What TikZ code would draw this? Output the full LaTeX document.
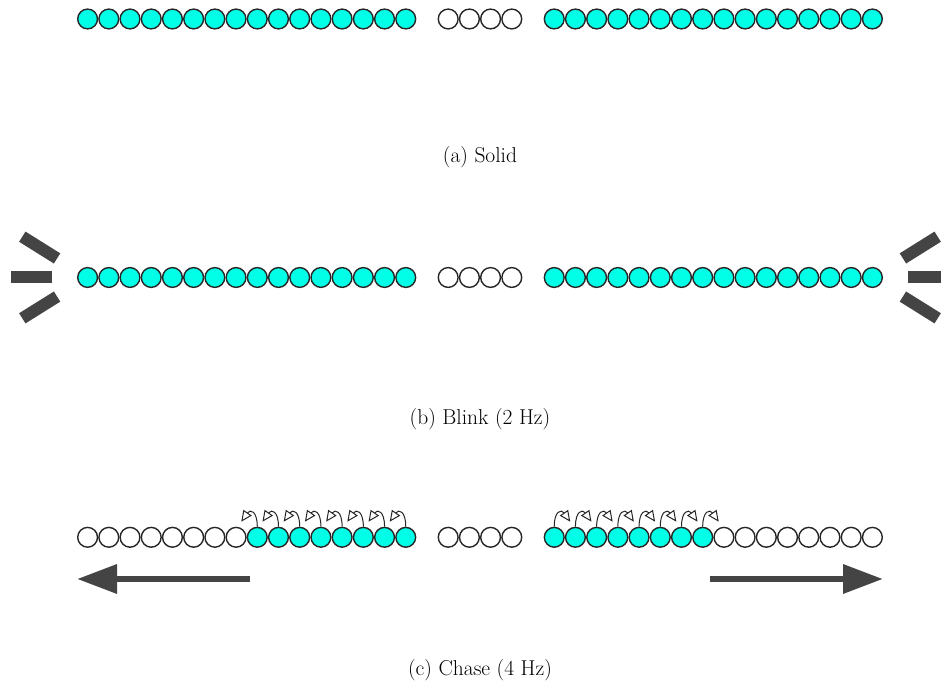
\documentclass[tikz,border=0pt]{standalone}
\usepackage{fontspec}
\usetikzlibrary{arrows.meta}
\definecolor{ledc}{RGB}{0,255,230}
\definecolor{dk}{RGB}{68,68,68}
\begin{document}
\begin{tikzpicture}[x=1pt,y=1pt,
  led/.style={circle,draw=black!85,line width=1.4pt,minimum size=19.8pt,inner sep=0pt},
  ledon/.style={led,fill=ledc},
  ledoff/.style={led,fill=white},
  bar/.style={draw=dk,line width=12pt},
  bigarrow/.style={draw=dk,line width=6.5pt,-{Triangle[length=40pt,width=28pt]}},
  chasearr/.style={draw=black!85,line width=1pt,-{Triangle[open,length=11pt,width=10pt]}},
  captext/.style={anchor=base,font=\fontsize{21.5}{26}\selectfont}]
\useasboundingbox (0,0) rectangle (941,692);
% row (a)
\foreach \i in {0,1,...,15,22,23,...,37}
  \node[ledon] (a\i) at ({77+21.21*(\i+0.5)},673) {};
\foreach \i in {17,18,...,20}
  \node[ledoff] (a\i) at ({77+21.21*(\i+0.5)},673) {};
\node[captext] (capa) at (480,529) {(a) Solid};
% row (b)
\foreach \i in {0,1,...,15,22,23,...,37}
  \node[ledon] (b\i) at ({77+21.21*(\i+0.5)},414.5) {};
\foreach \i in {17,18,...,20}
  \node[ledoff] (b\i) at ({77+21.21*(\i+0.5)},414.5) {};
\foreach \a in {148,180,212}
  \draw[bar] (b0.center) ++(\a:36) -- ++(\a:41);
\foreach \a in {32,0,-32}
  \draw[bar] (b37.center) ++(\a:36) -- ++(\a:41);
\node[captext] (capb) at (480,267) {(b) Blink (2 Hz)};
% row (c)
\foreach \i in {8,9,...,15,22,23,...,29}
  \node[ledon] (c\i) at ({77+21.21*(\i+0.5)},154.7) {};
\foreach \i in {0,1,...,7,17,18,...,20,30,31,...,37}
  \node[ledoff] (c\i) at ({77+21.21*(\i+0.5)},154.7) {};
\foreach \i in {8,9,...,15}
  \draw[chasearr] (c\i.north) to[out=90,in=55,looseness=2.4] ++(-16,5);
\foreach \i in {22,23,...,29}
  \draw[chasearr] (c\i.north) to[out=90,in=125,looseness=2.4] ++(16,5);
\coordinate (la1) at (250,113);
\coordinate (la2) at (77,113);
\coordinate (ra1) at (710,113);
\coordinate (ra2) at (883,113);
\draw[bigarrow] (la1) -- (la2);
\draw[bigarrow] (ra1) -- (ra2);
\node[captext] (capc) at (480,16) {(c) Chase (4 Hz)};
\end{tikzpicture}
\end{document}
